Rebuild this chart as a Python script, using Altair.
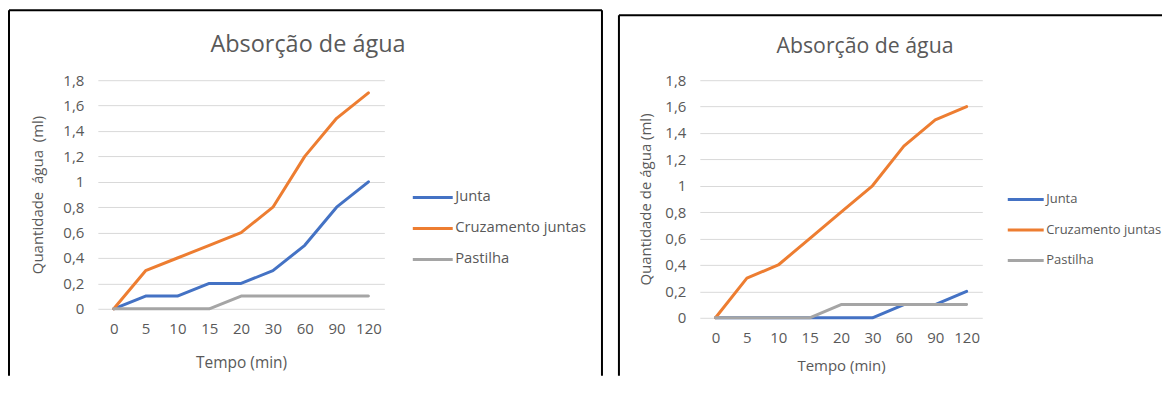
import altair as alt
import pandas as pd

tempo = ["0", "5", "10", "15", "20", "30", "60", "90", "120"]
series = ["Junta", "Cruzamento juntas", "Pastilha"]
colors = ["#4472C4", "#ED7D31", "#A5A5A5"]
y_ticks = [0, 0.2, 0.4, 0.6, 0.8, 1.0, 1.2, 1.4, 1.6, 1.8]

left_junta = [0, 0.1, 0.1, 0.2, 0.2, 0.3, 0.5, 0.8, 1.0]
left_cruz = [0, 0.3, 0.4, 0.5, 0.6, 0.8, 1.2, 1.5, 1.7]
left_past = [0, 0, 0, 0, 0.1, 0.1, 0.1, 0.1, 0.1]

right_junta = [0, 0, 0, 0, 0, 0, 0.1, 0.1, 0.2]
right_cruz = [0, 0.3, 0.4, 0.6, 0.8, 1.0, 1.3, 1.5, 1.6]
right_past = [0, 0, 0, 0, 0.1, 0.1, 0.1, 0.1, 0.1]

TXT = "#595959"
FONT = "Open Sans"


def long_df(j, c, p):
    rows = []
    for name, vals in zip(series, [j, c, p]):
        for t, v in zip(tempo, vals):
            rows.append({"t": t, "serie": name, "v": v})
    return pd.DataFrame(rows)


one = pd.DataFrame({"k": [0]})


def vrule(x, y1, y2, op=1.0):
    return alt.Chart(one).mark_rule(color="black", strokeWidth=2, opacity=op).encode(
        x=alt.value(x), y=alt.value(y1), y2=alt.value(y2))


def hrule(x1, x2, y, op=1.0):
    return alt.Chart(one).mark_rule(color="black", strokeWidth=2, opacity=op).encode(
        x=alt.value(x1), x2=alt.value(x2), y=alt.value(y))


def panel(df, w, h, ytitle, lx, ly, lfs, rowpad, symsize, xlp, xtp, ytp, tfs, tdx, tdy, xtfs, rules):
    lines = alt.Chart(df).mark_line(strokeWidth=3, strokeCap="round", strokeJoin="round").encode(
        x=alt.X("t:N", sort=tempo, scale=alt.Scale(type="point", padding=0.5),
                axis=alt.Axis(title="Tempo (min)", labelAngle=0, domain=False, ticks=False,
                              labelPadding=xlp, titlePadding=xtp, labelFontSize=15,
                              titleFontSize=xtfs, labelColor=TXT, titleColor=TXT,
                              titleFontWeight="normal", labelFont=FONT, titleFont=FONT)),
        y=alt.Y("v:Q", scale=alt.Scale(domain=[0, 1.8], nice=False),
                axis=alt.Axis(title=ytitle, values=y_ticks,
                              labelExpr="replace(format(datum.value, '~g'), '.', ',')",
                              domain=False, ticks=False, grid=True, gridColor="#D9D9D9",
                              gridWidth=1, labelPadding=14, titlePadding=ytp,
                              labelFontSize=15, titleFontSize=15, labelColor=TXT,
                              titleColor=TXT, titleFontWeight="normal",
                              labelFont=FONT, titleFont=FONT)),
        color=alt.Color("serie:N", scale=alt.Scale(domain=series, range=colors),
                        legend=alt.Legend(orient="none", legendX=lx, legendY=ly, title=None,
                                          symbolType="stroke", symbolSize=symsize,
                                          symbolStrokeWidth=3, labelFontSize=lfs,
                                          labelColor=TXT, labelFont=FONT, labelOffset=1,
                                          rowPadding=rowpad, padding=0)),
    )
    return alt.layer(lines, *rules).properties(
        width=w, height=h,
        title=alt.Title("Absorção de água", fontSize=tfs, font=FONT, fontWeight="normal",
                        color=TXT, anchor="middle", frame="group", dx=tdx, dy=tdy, offset=0))


left = panel(long_df(left_junta, left_cruz, left_past), 287, 229,
             "Quantidade\u00a0 água\u00a0 (ml)", 314, 96, 14.8, 2, 1600, 13, 19, 17, 23.5, 67, 47,
             15.5, [vrule(-89, -70, 296), vrule(505, -70, 296), hrule(-89, 505, -70)])

right = panel(long_df(right_junta, right_cruz, right_past), 283, 238,
              "Quantidade de água (ml)", 307, 100, 13, 3.5, 1296, 13, 13, 11, 21.3, 24, 47,
              15, [vrule(-81, -65, 296), hrule(-81, 463, -65), hrule(0, 1, -70, 0.0)])

chart = alt.hconcat(left, right, spacing=15).resolve_scale(color="independent").resolve_legend(
    color="independent").properties(
    padding={"left": 0, "top": 1, "right": 0, "bottom": 0}).configure_view(stroke=None)

chart.save("out.html", embed_options={"renderer": "svg", "actions": False})
